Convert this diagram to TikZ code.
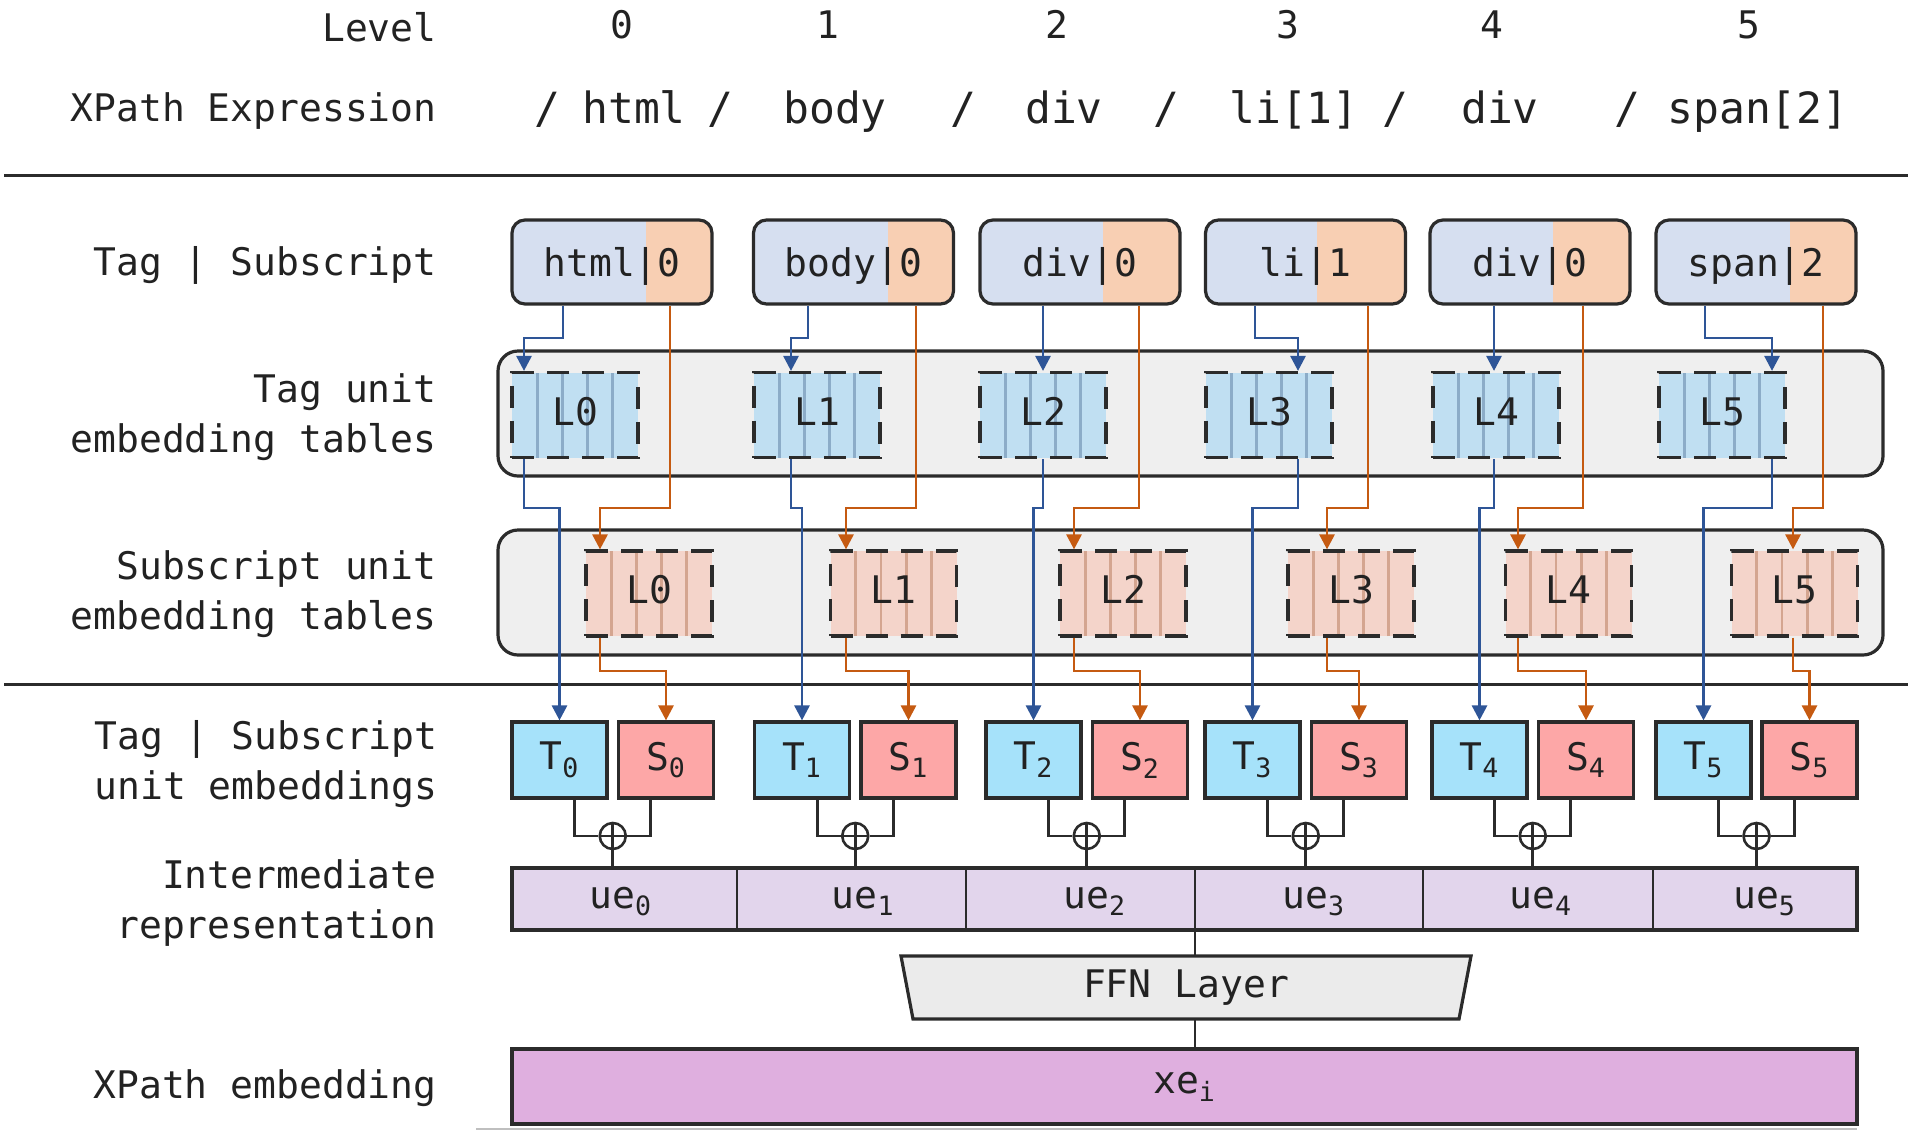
\documentclass[tikz,border=0pt]{standalone}
\usepackage{fontspec}
\setmonofont{DejaVu Sans Mono}
\usepackage{tikz}
\usetikzlibrary{calc, positioning}
\usetikzlibrary{arrows.meta}
\tikzset{>={Triangle[width=7.5pt,length=7.5pt]}}

\definecolor{linegray}{HTML}{2B2B2B}
\definecolor{inkgray}{HTML}{222222}
\definecolor{tagfill}{HTML}{D6DFF0}
\definecolor{subfill}{HTML}{F8CFB3}
\definecolor{panelfill}{HTML}{EFEFEF}
\definecolor{tabblue}{HTML}{C0DFF2}
\definecolor{stripeblue}{HTML}{8CACC8}
\definecolor{tabpeach}{HTML}{F4D4CA}
\definecolor{stripepeach}{HTML}{D4A590}
\definecolor{tcyan}{HTML}{A6E2FA}
\definecolor{spink}{HTML}{FDA7A7}
\definecolor{uefill}{HTML}{E2D5EC}
\definecolor{xefill}{HTML}{DFAFDF}
\definecolor{ffnfill}{HTML}{EBEBEB}
\definecolor{tagarrow}{HTML}{2E5597}
\definecolor{subarrow}{HTML}{C55A11}

\begin{document}
\begin{tikzpicture}[
    x = 0.5pt, y = -0.5pt,
    font = \ttfamily\fontsize{19pt}{25pt}\selectfont,
    every node/.style = {text=inkgray},
    rowlabel/.style = {anchor=east, align=right, inner sep=0pt},
    head/.style = {anchor=base, inner sep=0pt},
    pathtok/.style = {head, font=\ttfamily\fontsize{21.5pt}{25pt}\selectfont},
    tagbox/.style = {draw=linegray, line width=1.6pt, rounded corners=6.5pt,
        minimum width=100pt, minimum height=42pt, inner sep=0pt,
        text height=14pt, text depth=0pt,
        path picture={
          \fill[tagfill, sharp corners] (path picture bounding box.south west)
            rectangle ([xshift=#1]path picture bounding box.north);
          \fill[subfill, sharp corners] ([xshift=#1]path picture bounding box.south)
            rectangle (path picture bounding box.north east);}},
    ltab/.style 2 args = {draw=linegray, line width=1.6pt,
        dash pattern=on 11pt off 6.5pt, fill=#1,
        minimum width=63pt, minimum height=42.5pt, inner sep=0pt,
        text height=14pt, text depth=4pt,
        path picture={\foreach \s in {1,...,4}
          \draw[#2, solid, line width=1.4pt]
            ([xshift=\s*12.6pt]path picture bounding box.south west)
            -- ([xshift=\s*12.6pt]path picture bounding box.north west);}},
    tagtab/.style = {ltab={tabblue}{stripeblue}},
    subtab/.style = {ltab={tabpeach}{stripepeach}},
    panel/.style = {draw=linegray, line width=1.6pt, fill=panelfill,
        rounded corners=10pt, minimum width=692.5pt, minimum height=62.5pt,
        inner sep=0pt},
    tbox/.style = {draw=linegray, line width=1.6pt, fill=#1,
        minimum width=47.5pt, minimum height=38pt, inner sep=0pt},
    plus/.style = {circle, draw=linegray, line width=1.3pt, minimum size=13pt,
        inner sep=0pt,
        path picture={\draw[linegray, line width=1.3pt]
          (path picture bounding box.north) -- (path picture bounding box.south)
          (path picture bounding box.west) -- (path picture bounding box.east);}},
    strip/.style = {draw=linegray, line width=1.6pt, fill=#1,
        minimum width=672.5pt, inner sep=0pt},
    tagline/.style = {->, draw=tagarrow, line width=1.4pt},
    subline/.style = {->, draw=subarrow, line width=1.4pt},
    sumline/.style = {draw=linegray, line width=1.4pt},
    rule/.style = {draw=linegray, line width=1.5pt}
  ]
  \useasboundingbox (0,0) rectangle (1914,1130);

  % header
  \node[rowlabel, anchor=base east] (levelhd) at (437,41) {Level};
  \node[rowlabel, anchor=base east] (xpathhd) at (437,121) {XPath Expression};
  \foreach \x [count=\j from 0] in {622,828,1057,1288,1492,1749}
  \node[head] (lvl\j) at (\x,38) {\j};
  \foreach \x [count=\j from 0] in {547,720,963,1166,1395,1627}
  \node[pathtok] (slash\j) at (\x,123) {/};
  \foreach \x/\tok [count=\j from 0] in {634/html, 835/body, 1064/div,
      1294/li[1], 1500/div, 1758/span[2]}
  \node[pathtok] (step\j) at (\x,123) {\tok};

  \draw[rule] (4,175) -- (1908,175);
  \draw[rule] (4,684) -- (1908,684);

  % row labels
  \node[rowlabel] (tagsublbl) at (437,265) {Tag | Subscript};
  \node[rowlabel] (tagtablbl) at (437,417) {Tag unit\\embedding tables};
  \node[rowlabel] (subtablbl) at (437,594) {Subscript unit\\embedding tables};
  \node[rowlabel] (unitlbl) at (438,764) {Tag | Subscript\\unit embeddings};
  \node[rowlabel] (interlbl) at (437,903) {Intermediate\\representation};
  \node[rowlabel] (xelbl) at (437,1088) {XPath embedding};

  \node[panel] (tagpanel) at (1190.5,413.5) {};
  \node[panel] (subpanel) at (1190.5,592.5) {};

  \node[strip=uefill, minimum height=31pt] (uebar) at (1184.5,899) {};
  \foreach \dx [count=\i] in {737,966,1195,1423,1653} {
    \coordinate (d\i) at (\dx,899);
    \draw[sumline] (uebar.north -| d\i) -- (uebar.south -| d\i);
  }

  \foreach \k/\name/\off/\tx/\ltx/\lsx/\Tx/\Sx/\bs/\bp/\os/\op in {
      0/html|0/17.2pt/612/575/649/559.5/666/563/524/670/600,
      1/body|0/17.2pt/853.5/817/893.5/802/908.5/808/791/916/846,
      2/div|0/11.4pt/1080/1043/1123/1033.5/1140/1043/1043/1139/1074,
      3/li|1/5.7pt/1305.5/1269/1351/1252.5/1359/1255/1298/1368/1327,
      4/div|0/11.4pt/1530/1496/1568.5/1479.5/1586/1494/1494/1583/1518,
      5/span|2/17.2pt/1756/1722/1794.5/1703.5/1809.5/1705/1772/1823/1793} {
    \node[tagbox=\off] (tag\k) at (\tx,262) {\name};
    \node[tagtab] (tt\k) at (\ltx,415) {L\k};
    \node[subtab] (st\k) at (\lsx,593.5) {L\k};
    \node[tbox=tcyan] (T\k) at (\Tx,760) {T\textsubscript{\k}};
    \node[tbox=spink] (S\k) at (\Sx,760) {S\textsubscript{\k}};
    \node[plus] (p\k) at ($(T\k.east)!0.5!(S\k.west)+(0,76)$) {};
    \node[head] (ue\k) at ($(p\k)+(8,72)$) {ue\textsubscript{\k}};

    \coordinate (bs\k) at (\bs,338);
    \coordinate (bp\k) at (\bp,338);
    \coordinate (bq\k) at (\bp,508);
    \coordinate (os\k) at (\os,508);
    \coordinate (op\k) at (\op,508);
    \coordinate (oq\k) at (\op,671);
    \draw[tagline] (tag\k.south -| bs\k) -- (bs\k) -- (bp\k) -- (tt\k.north -| bp\k);
    \draw[tagline] (tt\k.south -| bp\k) -- (bq\k) -- (bq\k -| T\k) -- (T\k.north);
    \draw[subline] (tag\k.south -| os\k) -- (os\k) -- (op\k) -- (st\k.north -| op\k);
    \draw[subline] (st\k.south -| op\k) -- (oq\k) -- (oq\k -| S\k) -- (S\k.north);

    \coordinate (pl\k) at ($(p\k)+(-38,0)$);
    \coordinate (pr\k) at ($(p\k)+(38,0)$);
    \draw[sumline] (T\k.south -| pl\k) |- (p\k.west);
    \draw[sumline] (S\k.south -| pr\k) |- (p\k.east);
    \draw[sumline] (p\k.south) -- (p\k |- uebar.north);
  }

  % FFN and output
  \coordinate (ffnc) at (1186,987.5);
  \draw[line width=1.6pt, draw=linegray, fill=ffnfill]
    ($(ffnc)+(-285,-31.5)$) -- ($(ffnc)+(285,-31.5)$)
    -- ($(ffnc)+(273,31.5)$) -- ($(ffnc)+(-273,31.5)$) -- cycle;
  \node[inner sep=0pt, minimum width=285pt, minimum height=31.5pt] (ffn) at (ffnc) {FFN Layer};
  \node[strip=xefill, minimum height=37.5pt] (xebar) at (1184.5,1086.5) {xe\textsubscript{i}};
  \draw[sumline] (uebar.south -| d3) -- (ffn.north -| d3);
  \draw[sumline] (ffn.south -| d3) -- (xebar.north -| d3);

  \draw[gray!50, line width=1pt] (476,1128.5) -- (1857,1128.5);
\end{tikzpicture}
\end{document}
